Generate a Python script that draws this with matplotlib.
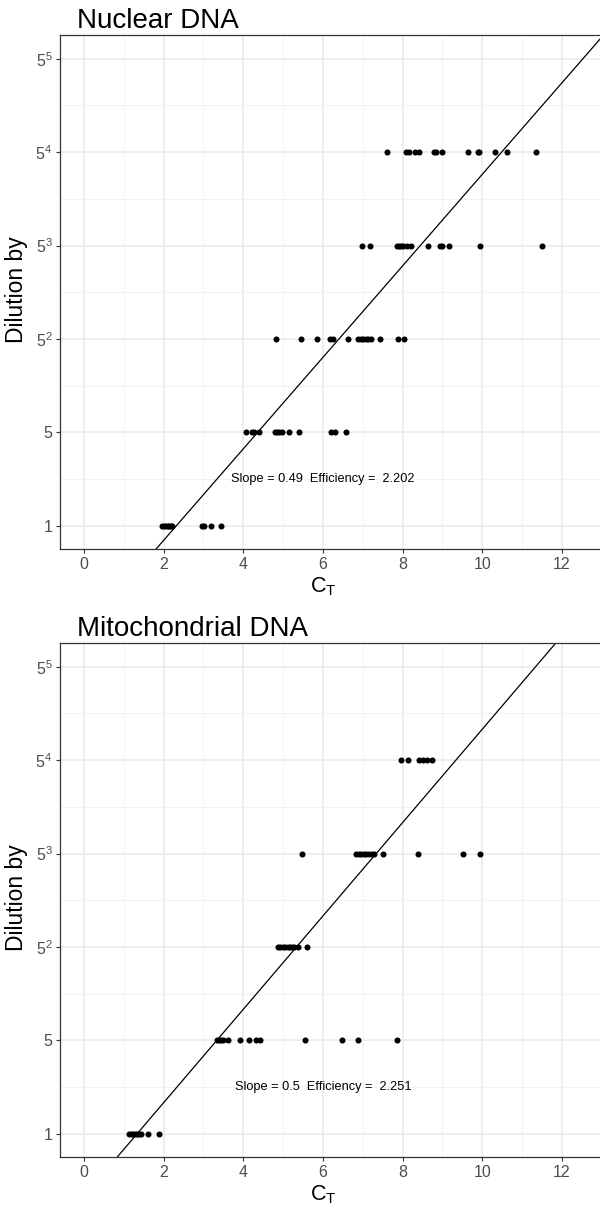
import numpy as np
import matplotlib
matplotlib.use('Agg')
import matplotlib.pyplot as plt

plt.rcParams['font.family'] = ['Liberation Sans', 'DejaVu Sans']
plt.rcParams['mathtext.fontset'] = 'custom'
plt.rcParams['mathtext.rm'] = 'Liberation Sans'
plt.rcParams['mathtext.it'] = 'Liberation Sans'

# dilution levels: exponent of 5
levels = [0, 1, 2, 3, 4, 5]
level_labels = ['1', '5', '$5^{2}$', '$5^{3}$', '$5^{4}$', '$5^{5}$']

# nuclear DNA, Ct values per dilution level
nuc_ct = {
    0: [1.96, 2.02, 2.06, 2.10, 2.14, 2.19, 2.22, 2.97, 3.01, 3.19, 3.44],
    1: [4.07, 4.21, 4.27, 4.39, 4.79, 4.85, 4.90, 4.97, 5.15, 5.40, 6.19, 6.29, 6.57],
    2: [4.82, 5.44, 5.84, 6.17, 6.24, 6.63, 6.88, 6.95, 7.01, 7.07, 7.13, 7.20,
        7.43, 7.88, 8.04],
    3: [6.99, 7.18, 7.86, 7.91, 7.96, 8.01, 8.11, 8.22, 8.64, 8.95, 9.00, 9.16,
        9.95, 11.51],
    4: [7.60, 8.09, 8.16, 8.30, 8.40, 8.78, 8.85, 8.98, 9.63, 9.88, 9.92, 10.31,
        10.63, 11.35],
}
nuc_slope = 0.49
nuc_intercept = -1.137
nuc_eff = 2.202

# mitochondrial DNA
mito_ct = {
    0: [1.13, 1.18, 1.23, 1.28, 1.33, 1.39, 1.44, 1.61, 1.88],
    1: [3.33, 3.39, 3.45, 3.49, 3.62, 3.91, 4.14, 4.31, 4.42, 5.54, 6.49, 6.89, 7.86],
    2: [4.87, 4.93, 4.99, 5.05, 5.11, 5.17, 5.23, 5.28, 5.37, 5.60],
    3: [5.48, 6.84, 6.90, 6.96, 7.02, 7.09, 7.16, 7.22, 7.27, 7.50, 8.39, 9.52, 9.95],
    4: [7.97, 8.14, 8.40, 8.51, 8.62, 8.74],
}
mito_slope = 0.5
mito_intercept = -0.668
mito_eff = 2.251

W, H = 600, 1209
fig = plt.figure(figsize=(W / 100, H / 100), dpi=100)


def panel(top_px, bot_px, title, ct, slope, intercept, eff):
    left_px, right_px = 60, 603
    ax = fig.add_axes([left_px / W, 1 - bot_px / H, (right_px - left_px) / W,
                       (bot_px - top_px) / H])
    px_per_x = 39.83
    ax.set_xlim((left_px - 84) / px_per_x, (right_px - 84) / px_per_x)
    ax.set_ylim(-0.25, 5.255)

    for lev, vals in ct.items():
        ax.scatter(vals, [lev] * len(vals), s=19, color='black', linewidths=0, zorder=3)
    ax.axline((0, intercept), slope=slope, color='black', lw=0.9, zorder=2)

    ax.text(6.0, 0.5, 'Slope = %s  Efficiency =  %s' % (slope, eff),
            ha='center', va='center', fontsize=9.2, color='black')

    ax.set_xticks([0, 2, 4, 6, 8, 10, 12])
    ax.set_xticks([1, 3, 5, 7, 9, 11], minor=True)
    ax.set_yticks(levels)
    ax.set_yticklabels(level_labels)
    ax.set_yticks([0.5, 1.5, 2.5, 3.5, 4.5], minor=True)
    ax.grid(which='major', color='#EBEBEB', lw=1.2, zorder=0)
    ax.grid(which='minor', color='#F2F2F2', lw=0.7, zorder=0)
    ax.set_axisbelow(True)
    ax.tick_params(which='major', length=3, width=0.8, color='#333333',
                   labelsize=11.5, labelcolor='#4D4D4D', pad=2.5)
    ax.tick_params(which='minor', length=0)
    for sp in ax.spines.values():
        sp.set_color('#333333')
        sp.set_linewidth(0.9)

    fig.text(77 / W, 1 - (top_px - 7) / H, title, fontsize=20, ha='left', va='baseline')
    fig.text(17 / W, 1 - ((top_px + bot_px) / 2 - 2) / H, 'Dilution by', fontsize=16.5,
             rotation=90, ha='center', va='center')
    fig.text(323 / W, 1 - (bot_px + 43) / H, '$\\mathregular{C_T}$', fontsize=15.5,
             ha='center', va='baseline')
    return ax


panel(35, 549, 'Nuclear DNA', nuc_ct, nuc_slope, nuc_intercept, nuc_eff)
panel(643, 1157, 'Mitochondrial DNA', mito_ct, mito_slope, mito_intercept, mito_eff)

fig.savefig('out.png', dpi=100)
